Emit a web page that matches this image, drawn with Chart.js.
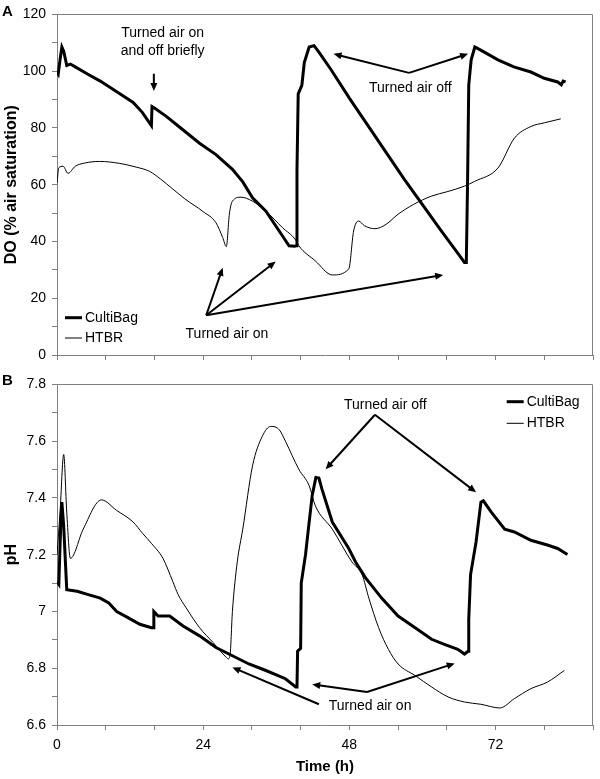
<!DOCTYPE html>
<html><head><meta charset="utf-8">
<script src="https://cdn.jsdelivr.net/npm/chart.js@4.4.1/dist/chart.umd.min.js"></script>
<style>
html,body{margin:0;padding:0;background:#fff;}
#wrap{position:relative;width:600px;height:779px;font-family:"Liberation Sans",Arial,sans-serif;}
.box{position:absolute;left:0;width:600px;}
.lbl{position:absolute;font-weight:bold;font-size:15px;color:#000;}
</style></head><body>
<div id="wrap">
  <div class="box" style="top:0;height:370px"><canvas id="cA" width="600" height="370"></canvas></div>
  <div class="box" style="top:370px;height:409px"><canvas id="cB" width="600" height="409"></canvas></div>
  <div class="lbl" style="left:2px;top:2px">A</div>
  <div class="lbl" style="left:2px;top:371px">B</div>
</div>
<script>
// ---------- DATA ----------
const seriesNames = ["CultiBag", "HTBR"];
const xTickValues = [0, 24, 48, 72];

const cultiBagDOTime = [0,0.2,0.5,0.8,1.1,1.6,2.2,3,5,7.1,10,12.5,14,15.5,15.6,16,18,20,23.4,26.1,28.8,30.5,32.1,34.3,37,38.1,39,39.3,39.4,39.6,40.2,40.6,41.4,42.2,43,45,48,51,54,57,60,63,66,66.9,67.2,67.4,67.6,67.8,68,68.6,69.5,72.4,75,77.8,80,82.2,82.8,83.1,83.5];
const cultiBagDO     = [99.7,99,104,108.5,107,102,102.5,101.5,99,96.5,92.5,89,85.5,80.8,87.5,87,84,80.5,74.6,70.6,65.4,61,55.4,50.7,42,38.5,38.3,38.5,65,92,95,103,108.5,109,106.7,100.5,90.5,81,71.5,62,53,44,35.3,32.6,32.6,60,95,99.7,104,108.5,107.5,104,101.5,99.7,97.5,96.2,95.2,96.5,96.2];

const htbrDOTime = [0,0.3,1,1.8,3,4.5,7,10.3,13,15.2,17,19,21,24,26.1,27.2,27.8,28.3,28.8,30.2,32.1,34.3,37,39.2,39.7,42.4,45.2,47.9,48.7,49.5,50.5,52.2,54,56,58.5,61.5,64,66.9,68.6,72.4,75.1,77.8,80,82.7];
const htbrDO     = [60.6,66,66.5,64,66.5,67.6,68.2,67.5,66.2,64.7,62,58.5,55,50.5,46.6,41.4,38.2,49.7,54.2,55.6,54.2,50.7,44.9,40.5,38.5,33.2,28.2,30.3,43.7,47.2,45.5,44.5,46,49.6,53,56,57.5,59.5,61.2,65.9,76.4,80.5,81.8,83.2];

const cultiBagPHTime = [0,0.3,0.6,0.8,1.1,1.6,3.3,5,7.1,8.5,9.8,11.5,13.6,15.5,15.8,15.9,16.6,18.5,20.7,23.4,26.1,28.8,31.5,34.3,37.5,39.2,39.4,39.5,40,40.1,40.8,41.4,41.9,42.5,43,43.5,45.2,47.9,49,50.6,53.3,56,58.8,61.5,63.5,65.8,66.9,67.5,67.6,67.9,68.8,69.6,70,71.3,73.5,75.1,77.8,80.5,82.2,83.8];
const cultiBagPH     = [7.106,7.096,7.3,7.385,7.3,7.077,7.071,7.06,7.047,7.03,7.0,6.98,6.955,6.943,6.943,7.0,6.984,6.984,6.949,6.914,6.873,6.844,6.815,6.792,6.763,6.734,6.734,6.86,6.87,7.1,7.2,7.315,7.409,7.472,7.47,7.431,7.315,7.222,7.175,7.12,7.047,6.984,6.943,6.902,6.885,6.867,6.85,6.86,6.972,7.13,7.245,7.385,7.39,7.35,7.29,7.28,7.251,7.234,7.222,7.201];

const htbrPHTime = [0,0.5,1.1,1.6,2.2,4.3,7.3,9.8,12.5,14.1,15.5,17.4,19,19.9,21.2,23.4,25.6,27.8,28.1,28.4,28.8,29.6,30.5,32.1,33.7,35.1,36.5,37.5,39.7,41.4,42.4,45.2,48.4,50.1,51.2,52.8,54.4,56,58.8,61.5,64.2,66.9,69.6,72.7,75.1,77.8,80.5,83.3];
const htbrPH     = [7.2,7.35,7.553,7.35,7.187,7.29,7.393,7.356,7.315,7.274,7.24,7.187,7.106,7.059,7.013,6.943,6.891,6.838,6.833,6.844,7.0,7.175,7.29,7.513,7.617,7.652,7.64,7.6,7.501,7.443,7.373,7.29,7.175,7.129,7.047,6.943,6.867,6.815,6.774,6.734,6.699,6.681,6.673,6.66,6.693,6.728,6.751,6.792];

// ---------- helpers ----------
const FONT = '"Liberation Sans", Arial, sans-serif';
const pts = (xs, ys) => xs.map((x, i) => ({x: x, y: ys[i]}));

const annotPlugin = {
  id: 'annot',
  afterDatasetsDraw(chart, args, opts) {
    const ctx = chart.ctx, xs = chart.scales.x, ys = chart.scales.y, ca = chart.chartArea;
    ctx.save();
    ctx.strokeStyle = '#808080'; ctx.lineWidth = 1;
    ctx.beginPath();
    ctx.moveTo(Math.round(ca.left) + 0.5, Math.round(ca.top) + 0.5);
    ctx.lineTo(Math.round(ca.right) - 0.5, Math.round(ca.top) + 0.5);
    ctx.lineTo(Math.round(ca.right) - 0.5, Math.round(ca.bottom));
    ctx.stroke();
    ctx.fillStyle = '#000'; ctx.strokeStyle = '#000';
    ctx.font = '14px ' + FONT;
    ctx.textAlign = 'center'; ctx.textBaseline = 'middle';
    (opts.texts || []).forEach(t => ctx.fillText(t.text, xs.getPixelForValue(t.x), ys.getPixelForValue(t.y)));
    (opts.arrows || []).forEach(a => {
      const x1 = xs.getPixelForValue(a.from[0]), y1 = ys.getPixelForValue(a.from[1]);
      const x2 = xs.getPixelForValue(a.to[0]), y2 = ys.getPixelForValue(a.to[1]);
      const ang = Math.atan2(y2 - y1, x2 - x1), L = 8, W = 3.5;
      ctx.lineWidth = 2;
      ctx.beginPath(); ctx.moveTo(x1, y1);
      ctx.lineTo(x2 - Math.cos(ang) * L * 0.8, y2 - Math.sin(ang) * L * 0.8); ctx.stroke();
      ctx.beginPath();
      ctx.moveTo(x2, y2);
      ctx.lineTo(x2 - Math.cos(ang) * L - Math.sin(ang) * W, y2 - Math.sin(ang) * L + Math.cos(ang) * W);
      ctx.lineTo(x2 - Math.cos(ang) * L + Math.sin(ang) * W, y2 - Math.sin(ang) * L - Math.cos(ang) * W);
      ctx.closePath(); ctx.fill();
    });
    if (opts.legend) {
      const lg = opts.legend;
      chart.data.datasets.forEach((ds, i) => {
        const y = lg.y + i * lg.gap;
        ctx.lineWidth = ds.borderWidth; ctx.strokeStyle = ds.borderColor;
        ctx.beginPath(); ctx.moveTo(lg.x, y); ctx.lineTo(lg.x + 17, y); ctx.stroke();
        ctx.textAlign = 'left'; ctx.fillStyle = '#000';
        ctx.fillText(ds.label, lg.x + 20, y);
      });
    }
    ctx.restore();
  }
};

function makeDatasets(cbData, htData) {
  return [
    {label: seriesNames[0], data: cbData, borderColor: '#000', borderWidth: 3, pointRadius: 0, tension: 0, borderJoinStyle: 'miter'},
    {label: seriesNames[1], data: htData, borderColor: '#000', borderWidth: 1, pointRadius: 0, cubicInterpolationMode: 'monotone'}
  ];
}

function xScale(showLabels, height) {
  return {
    type: 'linear', min: 0, max: 88,
    afterBuildTicks: s => { const t = []; for (let v = 0; v <= 88; v += 8) t.push({value: v}); s.ticks = t; },
    afterFit: s => { s.height = height; },
    grid: {display: true, drawOnChartArea: false, drawTicks: true, tickLength: 5, color: '#808080'},
    border: {display: true, color: '#808080'},
    ticks: {
      color: '#000', font: {size: 14, family: FONT}, padding: 7, maxRotation: 0, autoSkip: false,
      callback: v => (showLabels && xTickValues.includes(v)) ? String(v) : ''
    },
    title: showLabels ? {display: true, text: 'Time (h)', color: '#000', font: {size: 15, weight: 'bold', family: FONT}, padding: {top: 0, bottom: 3}} : {display: false}
  };
}

function yScale(min, max, step, labelFn, title) {
  return {
    type: 'linear', min: min, max: max,
    afterBuildTicks: s => { const t = []; const n = Math.round((max - min) / step); for (let i = 0; i <= n; i++) t.push({value: +(min + i * step).toFixed(4)}); s.ticks = t; },
    afterFit: s => { s.width = 57; },
    grid: {display: true, drawOnChartArea: false, drawTicks: true, tickLength: 5, color: '#808080'},
    border: {display: true, color: '#808080'},
    ticks: {color: '#000', font: {size: 14, family: FONT}, padding: 6, autoSkip: false, callback: labelFn},
    title: {display: true, text: title, color: '#000', font: {size: 16, weight: 'bold', family: FONT}, padding: {top: 2, bottom: 0}}
  };
}

Chart.defaults.font.family = FONT;

new Chart(document.getElementById('cA'), {
  type: 'line',
  data: {datasets: makeDatasets(pts(cultiBagDOTime, cultiBagDO), pts(htbrDOTime, htbrDO))},
  options: {
    responsive: false, animation: false,
    layout: {padding: {top: 12, right: 5, left: 0, bottom: 0}},
    scales: {
      x: xScale(false, 15),
      y: yScale(0, 120, 10, v => (Math.round(v) % 20 === 0 ? String(Math.round(v)) : ''), 'DO (% air saturation)')
    },
    plugins: {
      legend: {display: false}, tooltip: {enabled: false},
      annot: {
        texts: [
          {text: 'Turned air on', x: 17.35, y: 113.5},
          {text: 'and off briefly', x: 17.35, y: 107.1},
          {text: 'Turned air off', x: 58.0, y: 93.9},
          {text: 'Turned air on', x: 27.9, y: 7.3}
        ],
        arrows: [
          {from: [15.9, 99.1], to: [15.9, 93.0]},
          {from: [57.8, 99.4], to: [45.4, 106.1]},
          {from: [57.8, 99.4], to: [67.5, 106.1]},
          {from: [24.5, 14.0], to: [27.2, 30.7]},
          {from: [24.5, 14.0], to: [35.9, 32.9]},
          {from: [24.5, 14.0], to: [63.4, 28.2]}
        ],
        legend: {x: 65, y: 317.7, gap: 20.3}
      }
    }
  },
  plugins: [annotPlugin]
});

new Chart(document.getElementById('cB'), {
  type: 'line',
  data: {datasets: makeDatasets(pts(cultiBagPHTime, cultiBagPH), pts(htbrPHTime, htbrPH))},
  options: {
    responsive: false, animation: false,
    layout: {padding: {top: 11, right: 5, left: 0, bottom: 0}},
    scales: {
      x: xScale(true, 54),
      y: yScale(6.6, 7.8, 0.1, v => (Math.round(v * 10) % 2 === 0 ? String(parseFloat(v.toFixed(1))) : ''), 'pH')
    },
    plugins: {
      legend: {display: false}, tooltip: {enabled: false},
      annot: {
        texts: [
          {text: 'Turned air off', x: 53.9, y: 7.728},
          {text: 'Turned air on', x: 51.4, y: 6.666}
        ],
        arrows: [
          {from: [52.2, 7.693], to: [44.1, 7.501]},
          {from: [52.2, 7.693], to: [68.8, 7.42]},
          {from: [50.9, 6.716], to: [41.9, 6.743]},
          {from: [50.9, 6.716], to: [65.3, 6.817]},
          {from: [43.0, 6.673], to: [28.8, 6.803]}
        ],
        legend: {x: 506.7, y: 31.7, gap: 21.6}
      }
    }
  },
  plugins: [annotPlugin]
});
</script>
</body></html>
